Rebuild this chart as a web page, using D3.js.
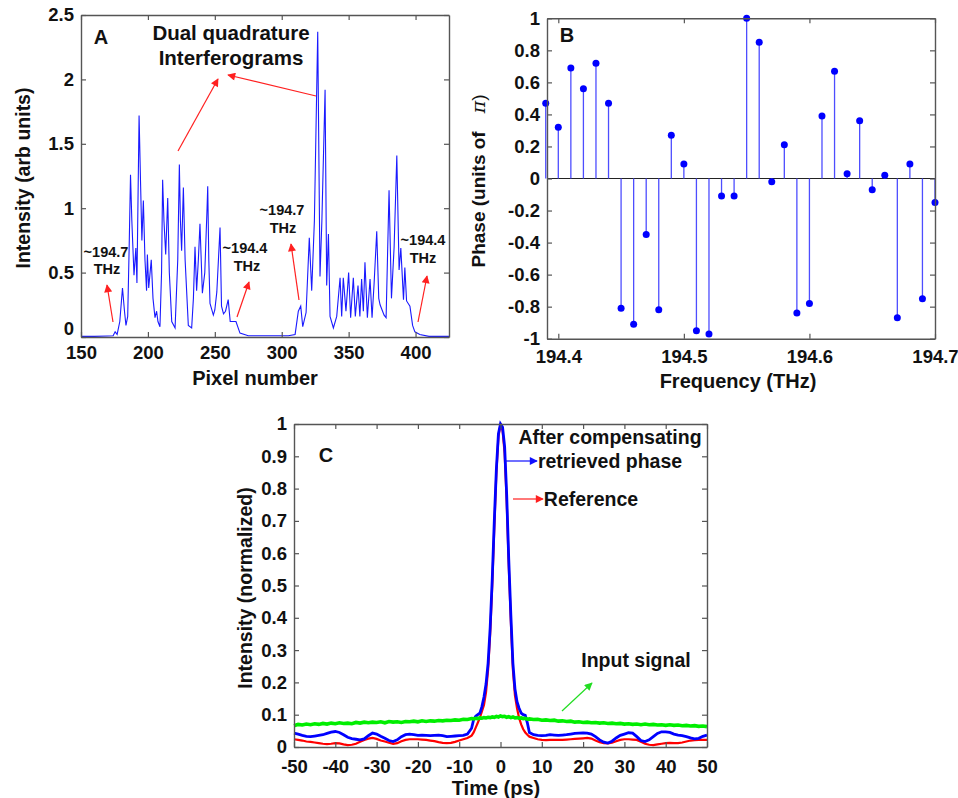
<!DOCTYPE html>
<html>
<head>
<meta charset="utf-8">
<script src="https://cdn.jsdelivr.net/npm/d3@7"></script>
<style>
  body { margin: 0; background: #fff; }
  svg text { font-family: "Liberation Sans", Arial, sans-serif; font-weight: bold; fill: #111; }
</style>
</head>
<body>
<div id="chart"></div>
<script>
// ---------- panel A : dual quadrature interferograms ----------
var pixelA = [150, 160, 170, 174, 175.5, 177, 179, 181, 182.5, 183.6, 184.9, 186, 187, 188, 189.6, 191, 191.8, 193.4, 194.5, 195.5,
  196.6, 197.8, 199, 199.6, 200.6, 202.5, 203.8, 205.3, 206.5, 207.5, 209, 210.2, 211, 212, 213.3, 214.8, 216, 217.8, 220.3, 222.3,
  223.5, 224.3, 225.2, 226.5, 227.8, 230.2, 232.7, 234, 235.2, 236.4, 237.7, 238.9, 240.7, 242.5, 244.2, 244.7, 245.5, 246.4, 248.9, 250,
  251.5, 253.9, 255, 256.5, 258, 260, 261.5, 263.8, 265.8, 268.8, 275, 290, 305, 310, 312.4, 314.2, 315.7, 318.2, 320.6, 322.4,
  324.4, 326.9, 328.6, 330, 332.4, 333.6, 334.9, 336.1, 338.6, 341.1, 343.6, 344.8, 346, 348, 350, 351.5, 353.5, 355, 357, 358.4,
  359.7, 361, 362.2, 364, 366, 367.5, 369, 371, 372.5, 373.5, 376.5, 378, 379, 380.2, 382, 384, 386, 387.7, 389, 391,
  392, 393.3, 395.8, 397.8, 399.5, 403.2, 410, 425];
var intensityA = [0.005, 0.005, 0.008, 0.01, 0.04, 0.02, 0.12, 0.38, 0.2, 0.09, 0.16, 0.7, 1.26, 0.9, 0.48, 0.69, 0.42, 1.72, 1.2, 0.75,
  1.06, 0.6, 0.36, 0.64, 0.38, 0.6, 0.3, 0.15, 0.2, 0.12, 0.08, 0.5, 1.22, 0.9, 0.64, 1.08, 0.5, 0.12, 0.07, 0.6,
  1.34, 0.9, 0.67, 1.16, 0.6, 0.09, 0.07, 0.3, 0.7, 0.36, 0.6, 0.88, 0.34, 0.5, 1.0, 1.17, 0.6, 0.26, 0.17, 0.21,
  0.35, 0.85, 0.24, 0.18, 0.2, 0.29, 0.12, 0.12, 0.12, 0.03, 0.01, 0.01, 0.01, 0.02, 0.2, 0.24, 0.08, 0.19, 0.77, 0.36,
  0.9, 2.37, 0.47, 0.9, 1.92, 0.4, 0.8, 0.16, 0.07, 0.16, 0.46, 0.16, 0.46, 0.2, 0.5, 0.15, 0.46, 0.16, 0.4, 0.16,
  0.45, 0.2, 0.58, 0.15, 0.45, 0.15, 0.41, 0.82, 0.3, 0.25, 0.17, 0.15, 0.6, 1.14, 0.3, 0.7, 1.41, 0.52, 0.69, 0.29,
  0.54, 0.28, 0.24, 0.09, 0.04, 0.02, 0.005, 0.005];
var ticksAX = [150, 200, 250, 300, 350, 400];
var ticksAY = [0, 0.5, 1, 1.5, 2, 2.5];

// ---------- panel B : retrieved spectral phase ----------
var freqB = [194.39, 194.40, 194.41, 194.42, 194.43, 194.44, 194.45, 194.46, 194.47, 194.48, 194.49, 194.50, 194.51, 194.52, 194.53, 194.54,
  194.55, 194.56, 194.57, 194.58, 194.59, 194.60, 194.61, 194.62, 194.63, 194.64, 194.65, 194.66, 194.67, 194.68, 194.69, 194.70];
var phaseB = [0.47, 0.32, 0.69, 0.56, 0.72, 0.47, -0.81, -0.91, -0.35, -0.82, 0.27, 0.09, -0.95, -0.97, -0.11, -0.11,
  1.0, 0.85, -0.02, 0.21, -0.84, -0.78, 0.39, 0.67, 0.03, 0.36, -0.07, 0.02, -0.87, 0.09, -0.75, -0.15];
var ticksBX = [194.4, 194.5, 194.6, 194.7];
var ticksBY = [-1, -0.8, -0.6, -0.4, -0.2, 0, 0.2, 0.4, 0.6, 0.8, 1];

// ---------- panel C : pulse intensity ----------
var timeC = [-50, -49, -48, -47, -46, -45, -44, -43, -42, -41, -40, -39, -38, -37, -36, -35, -34, -33, -32, -31, -30, -29,
  -28, -27, -26, -25, -24, -23, -22, -21, -20, -19, -18, -17, -16, -15, -14, -13, -12, -11, -10, -9, -8, -7,
  -6.5, -6, -5.5, -5, -4.5, -4, -3.5, -3, -2.5, -2, -1.5, -1, -0.5, 0, 0.5, 1, 1.5, 2, 2.5, 3, 3.5, 4, 4.5, 5, 5.5, 6, 6.5,
  7, 8, 9, 10, 11, 12, 13, 14, 15, 16, 17, 18, 19, 20, 21, 22, 23, 24, 25, 26, 27, 28,
  29, 30, 31, 32, 33, 34, 35, 36, 37, 38, 39, 40, 41, 42, 43, 44, 45, 46, 47, 48, 49, 50];
var compensatedC = [0.043, 0.040, 0.036, 0.033, 0.032, 0.034, 0.036, 0.038, 0.042, 0.046, 0.048, 0.045, 0.038, 0.030, 0.026, 0.024, 0.022, 0.025, 0.035, 0.043, 0.040, 0.033,
  0.027, 0.020, 0.017, 0.022, 0.032, 0.038, 0.040, 0.038, 0.036, 0.037, 0.036, 0.035, 0.036, 0.037, 0.035, 0.032, 0.033, 0.034, 0.035, 0.036, 0.040, 0.058,
  0.085, 0.095, 0.100, 0.105, 0.125, 0.155, 0.195, 0.26, 0.37, 0.52, 0.70, 0.86, 0.97, 1.0, 0.99, 0.93, 0.78, 0.58, 0.41, 0.26, 0.18, 0.14, 0.12, 0.105, 0.10, 0.098, 0.075,
  0.045, 0.038, 0.036, 0.035, 0.036, 0.038, 0.037, 0.036, 0.037, 0.038, 0.040, 0.042, 0.043, 0.044, 0.043, 0.040, 0.032, 0.022, 0.015, 0.012, 0.018, 0.028,
  0.036, 0.040, 0.044, 0.043, 0.032, 0.020, 0.017, 0.022, 0.032, 0.042, 0.047, 0.047, 0.045, 0.040, 0.037, 0.035, 0.032, 0.028, 0.025, 0.027, 0.033, 0.037];
var referenceC = [0.024, 0.022, 0.020, 0.017, 0.016, 0.014, 0.012, 0.010, 0.009, 0.010, 0.012, 0.011, 0.008, 0.006, 0.007, 0.010, 0.016, 0.022, 0.026, 0.028, 0.025, 0.020,
  0.017, 0.013, 0.010, 0.012, 0.018, 0.022, 0.024, 0.024, 0.024, 0.023, 0.022, 0.020, 0.018, 0.015, 0.013, 0.012, 0.013, 0.016, 0.020, 0.024, 0.028, 0.035,
  0.045, 0.060, 0.075, 0.09, 0.11, 0.13, 0.17, 0.24, 0.35, 0.50, 0.68, 0.85, 0.96, 1.0, 0.98, 0.91, 0.76, 0.56, 0.39, 0.24, 0.16, 0.12, 0.09, 0.07, 0.055, 0.045, 0.038,
  0.032, 0.028, 0.024, 0.022, 0.021, 0.022, 0.022, 0.022, 0.022, 0.023, 0.024, 0.025, 0.026, 0.027, 0.028, 0.026, 0.020, 0.015, 0.012, 0.011, 0.013, 0.018,
  0.022, 0.024, 0.024, 0.023, 0.022, 0.016, 0.010, 0.007, 0.006, 0.008, 0.010, 0.012, 0.013, 0.012, 0.012, 0.014, 0.017, 0.020, 0.021, 0.022, 0.022, 0.022];
var inputC = [0.066, 0.070, 0.068, 0.071, 0.069, 0.072, 0.070, 0.073, 0.071, 0.074, 0.072, 0.075, 0.073, 0.074, 0.072, 0.076, 0.074, 0.077, 0.075, 0.077, 0.076, 0.078,
  0.075, 0.079, 0.077, 0.078, 0.076, 0.079, 0.078, 0.080, 0.078, 0.081, 0.079, 0.081, 0.080, 0.082, 0.081, 0.083, 0.082, 0.084, 0.083, 0.086, 0.085, 0.088,
  0.087, 0.089, 0.088, 0.090, 0.089, 0.091, 0.090, 0.092, 0.091, 0.093, 0.092, 0.095, 0.093, 0.096, 0.094, 0.095, 0.092, 0.094, 0.091, 0.093, 0.090, 0.091, 0.089, 0.090, 0.088, 0.089, 0.086,
  0.087, 0.085, 0.086, 0.083, 0.084, 0.082, 0.083, 0.080, 0.081, 0.079, 0.080, 0.077, 0.078, 0.076, 0.077, 0.075, 0.076, 0.074, 0.075, 0.073, 0.074, 0.072,
  0.073, 0.071, 0.072, 0.070, 0.071, 0.069, 0.071, 0.069, 0.070, 0.068, 0.069, 0.067, 0.069, 0.067, 0.068, 0.066, 0.067, 0.065, 0.066, 0.064, 0.065, 0.063];
var ticksCX = [-50, -40, -30, -20, -10, 0, 10, 20, 30, 40, 50];
var ticksCY = [0, 0.1, 0.2, 0.3, 0.4, 0.5, 0.6, 0.7, 0.8, 0.9, 1];

var svg = d3.select("#chart").append("svg")
  .attr("width", 958)
  .attr("height", 798);

svg.append("rect").attr("width", 958).attr("height", 798).attr("fill", "#fff");

var defs = svg.append("defs");
["#ff2020", "#1010ff", "#22dd22"].forEach(function (c, i) {
  defs.append("marker")
    .attr("id", "arrow" + i)
    .attr("viewBox", "0 0 10 10")
    .attr("refX", 9).attr("refY", 5)
    .attr("markerWidth", 11).attr("markerHeight", 8)
    .attr("markerUnits", "userSpaceOnUse")
    .attr("orient", "auto")
    .append("path")
    .attr("d", "M0,0L10,5L0,10z")
    .attr("fill", c);
});

function fmt(d) { return String(d); }

// box with inward ticks on all four sides (matlab style)
function frame(x, y, tx, ty, padX) {
  var x0 = x.range()[0], x1 = x.range()[1], y0 = y.range()[0], y1 = y.range()[1];
  var ax = [
    svg.append("g").attr("transform", "translate(0," + y0 + ")")
      .call(d3.axisBottom(x).tickValues(tx).tickSize(-5).tickSizeOuter(0).tickPadding(padX).tickFormat(fmt)),
    svg.append("g").attr("transform", "translate(0," + y1 + ")")
      .call(d3.axisTop(x).tickValues(tx).tickSize(-5).tickSizeOuter(0).tickFormat("")),
    svg.append("g").attr("transform", "translate(" + x0 + ",0)")
      .call(d3.axisLeft(y).tickValues(ty).tickSize(-5).tickSizeOuter(0).tickPadding(7).tickFormat(fmt)),
    svg.append("g").attr("transform", "translate(" + x1 + ",0)")
      .call(d3.axisRight(y).tickValues(ty).tickSize(-5).tickSizeOuter(0).tickFormat(""))
  ];
  ax.forEach(function (a) {
    a.select(".domain").attr("stroke", "#555").attr("stroke-width", 1.4);
    a.selectAll(".tick line").attr("stroke", "#555").attr("stroke-width", 1.2);
    a.selectAll(".tick text").style("font-size", "18.5px").attr("fill", "#111")
      .style("font-family", "'Liberation Sans', Arial, sans-serif").style("font-weight", "bold");
  });
  return ax;
}

function label(x, y, txt, size, rot) {
  var t = svg.append("text")
    .attr("text-anchor", "middle")
    .style("font-size", size + "px")
    .text(txt);
  if (rot) t.attr("transform", "translate(" + x + "," + y + ") rotate(-90)").attr("dy", "0.35em");
  else t.attr("x", x).attr("y", y).attr("dy", "0.35em");
  return t;
}

function arrow(x1, y1, x2, y2, i) {
  var c = ["#ff2020", "#1010ff", "#22dd22"][i];
  svg.append("line")
    .attr("x1", x1).attr("y1", y1).attr("x2", x2).attr("y2", y2)
    .attr("stroke", c).attr("stroke-width", 1.2)
    .attr("marker-end", "url(#arrow" + i + ")");
}

// ---------- A ----------
var xA = d3.scaleLinear().domain([150, 425]).range([81, 449]);
var yA = d3.scaleLinear().domain([0, 2.5]).range([337, 15]);

svg.append("path")
  .datum(pixelA)
  .attr("fill", "none")
  .attr("stroke", "#1a1aff")
  .attr("stroke-width", 1.1)
  .attr("d", d3.line()
    .x(function (d) { return xA(d); })
    .y(function (d, i) { return yA(intensityA[i]); }));

var axA = frame(xA, yA, ticksAX, ticksAY, 9);
axA[2].selectAll(".tick text").filter(function (d) { return d === 0; }).attr("dy", "-0.12em");

label(101, 37, "A", 20);
label(231, 33, "Dual quadrature", 20.5);
label(231, 58, "Interferograms", 20.5);
arrow(178, 151, 218, 79, 0);
arrow(316, 96, 228, 75, 0);
label(106, 252, "~194.7", 14.5); label(107, 269, "THz", 14.5);
arrow(113, 322, 107, 285, 0);
label(245, 248, "~194.4", 14.5); label(247, 266, "THz", 14.5);
arrow(237, 317, 249, 282, 0);
label(282, 210, "~194.7", 14.5); label(283, 228, "THz", 14.5);
arrow(299, 300, 291, 244, 0);
label(423, 240, "~194.4", 14.5); label(423, 258, "THz", 14.5);
arrow(418, 322, 427, 276, 0);
label(23, 178, "Intensity (arb units)", 19.5, true);
label(255, 378, "Pixel number", 20);

// ---------- B ----------
var xB = d3.scaleLinear().domain([194.391, 194.7]).range([547, 935]);
var yB = d3.scaleLinear().domain([-1, 1]).range([338.7, 18.3]);

svg.append("line")
  .attr("x1", xB.range()[0]).attr("x2", xB.range()[1])
  .attr("y1", yB(0)).attr("y2", yB(0))
  .attr("stroke", "#222").attr("stroke-width", 1.1);

svg.selectAll(".stem")
  .data(freqB)
  .enter().append("line")
  .attr("class", "stem")
  .attr("x1", function (d) { return xB(d); })
  .attr("x2", function (d) { return xB(d); })
  .attr("y1", yB(0))
  .attr("y2", function (d, i) { return yB(phaseB[i]); })
  .attr("stroke", "#4d4dff")
  .attr("stroke-width", 1.3);

svg.selectAll(".dot")
  .data(freqB)
  .enter().append("circle")
  .attr("class", "dot")
  .attr("cx", function (d) { return xB(d); })
  .attr("cy", function (d, i) { return yB(phaseB[i]); })
  .attr("r", 3.5)
  .attr("fill", "#0000ff");

frame(xB, yB, ticksBX, ticksBY, 11);
label(567, 35, "B", 20);
var tB = svg.append("text")
  .attr("transform", "translate(478,181) rotate(-90)")
  .attr("text-anchor", "middle")
  .attr("dy", "0.35em")
  .style("font-size", "19px");
tB.append("tspan").text("Phase (units of");
tB.append("tspan").attr("dx", 18)
  .style("font-family", "'DejaVu Serif', serif").style("font-style", "italic").style("font-weight", "normal")
  .text("\u03c0");
tB.append("tspan").style("font-weight", "normal").text(")");
label(738, 381, "Frequency (THz)", 20);

// ---------- C ----------
var xC = d3.scaleLinear().domain([-50, 50]).range([294, 707]);
var yC = d3.scaleLinear().domain([0, 1]).range([747, 424]);

function lineC(vals) {
  return d3.line()
    .x(function (d) { return xC(d); })
    .y(function (d, i) { return yC(vals[i]); })(timeC);
}

svg.append("path").attr("d", lineC(referenceC))
  .attr("fill", "none").attr("stroke", "#ff0000").attr("stroke-width", 2.2);
svg.append("path").attr("d", lineC(compensatedC))
  .attr("fill", "none").attr("stroke", "#0000ff").attr("stroke-width", 2.8);
svg.append("path").attr("d", lineC(inputC))
  .attr("fill", "none").attr("stroke", "#00ee00").attr("stroke-width", 3.6);

frame(xC, yC, ticksCX, ticksCY, 13);
label(326, 455, "C", 20);
label(610, 437, "After compensating", 19.5);
label(610, 461, "retrieved phase", 19.5);
arrow(505, 461, 537, 461, 1);
label(591, 499, "Reference", 19.5);
arrow(513, 499, 543, 499, 0);
label(636, 660, "Input signal", 19.5);
arrow(562, 711, 592, 683, 2);
label(245, 588, "Intensity (normalized)", 19.5, true);
label(496, 788, "Time (ps)", 20);
</script>
</body>
</html>
